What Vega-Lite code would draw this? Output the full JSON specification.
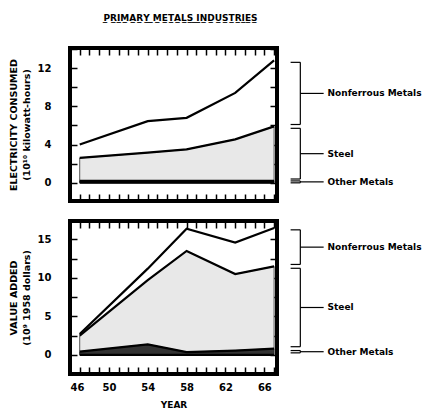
{
  "$schema": "https://vega.github.io/schema/vega-lite/v6.json",
  "padding": {"left": 6, "top": 12, "right": 0, "bottom": 0},
  "background": "white",
  "config": {
    "font": "DejaVu Sans",
    "view": {"stroke": "black", "strokeWidth": 4},
    "axis": {
      "domain": false,
      "grid": false,
      "ticks": true,
      "tickColor": "black",
      "tickWidth": 1.5,
      "tickSize": 7,
      "offset": -7,
      "labelFont": "DejaVu Sans",
      "labelFontWeight": "bold",
      "labelFontSize": 10,
      "labelColor": "black",
      "titleFont": "DejaVu Sans",
      "titleFontWeight": "bold",
      "titleFontSize": 9.5,
      "titleColor": "black"
    },
    "title": {"font": "DejaVu Sans", "fontWeight": "bold", "fontSize": 9, "color": "black"}
  },
  "datasets": {
    "electricity": [
      {"year": 47, "metal": "Other Metals", "value": 0.2},
      {"year": 47, "metal": "Steel", "value": 2.4},
      {"year": 47, "metal": "Nonferrous Metals", "value": 1.4},
      {"year": 54, "metal": "Other Metals", "value": 0.2},
      {"year": 54, "metal": "Steel", "value": 2.95},
      {"year": 54, "metal": "Nonferrous Metals", "value": 3.3},
      {"year": 58, "metal": "Other Metals", "value": 0.2},
      {"year": 58, "metal": "Steel", "value": 3.3},
      {"year": 58, "metal": "Nonferrous Metals", "value": 3.3},
      {"year": 63, "metal": "Other Metals", "value": 0.2},
      {"year": 63, "metal": "Steel", "value": 4.35},
      {"year": 63, "metal": "Nonferrous Metals", "value": 4.85},
      {"year": 67, "metal": "Other Metals", "value": 0.2},
      {"year": 67, "metal": "Steel", "value": 5.7},
      {"year": 67, "metal": "Nonferrous Metals", "value": 6.9}
    ],
    "valueAdded": [
      {"year": 47, "metal": "Other Metals", "value": 0.4},
      {"year": 47, "metal": "Steel", "value": 2.1},
      {"year": 47, "metal": "Nonferrous Metals", "value": 0.2},
      {"year": 54, "metal": "Other Metals", "value": 1.35},
      {"year": 54, "metal": "Steel", "value": 8.35},
      {"year": 54, "metal": "Nonferrous Metals", "value": 1.5},
      {"year": 58, "metal": "Other Metals", "value": 0.35},
      {"year": 58, "metal": "Steel", "value": 13.15},
      {"year": 58, "metal": "Nonferrous Metals", "value": 2.9},
      {"year": 63, "metal": "Other Metals", "value": 0.55},
      {"year": 63, "metal": "Steel", "value": 9.95},
      {"year": 63, "metal": "Nonferrous Metals", "value": 4.1},
      {"year": 67, "metal": "Other Metals", "value": 0.8},
      {"year": 67, "metal": "Steel", "value": 10.7},
      {"year": 67, "metal": "Nonferrous Metals", "value": 5.0}
    ]
  },
  "spacing": 14,
  "vconcat": [
    {
      "width": 207,
      "height": 153,
      "title": {
        "text": "P\u0332R\u0332I\u0332M\u0332A\u0332R\u0332Y\u0332 \u0332M\u0332E\u0332T\u0332A\u0332L\u0332S\u0332 \u0332I\u0332N\u0332D\u0332U\u0332S\u0332T\u0332R\u0332I\u0332E\u0332S\u0332",
        "anchor": "middle",
        "offset": 24,
        "dx": 7
      },
      "data": {"name": "electricity"},
      "transform": [
        {"calculate": "indexof(['Other Metals', 'Steel', 'Nonferrous Metals'], datum.metal)", "as": "rank"},
        {"window": [{"op": "sum", "field": "value", "as": "top"}], "groupby": ["year"], "sort": [{"field": "rank", "order": "ascending"}], "frame": [null, 0]},
        {"calculate": "datum.top - datum.value", "as": "bottom"}
      ],
      "layer": [
        {
          "mark": {"type": "area", "strokeWidth": 1},
          "encoding": {
            "x": {"field": "year", "type": "quantitative", "scale": {"domain": [46, 67.3], "nice": false, "zero": false},
                  "axis": {"orient": "bottom", "grid": false, "values": [46,47,48,49,50,51,52,53,54,55,56,57,58,59,60,61,62,63,64,65,66,67], "labels": false, "title": null}},
            "y": {"field": "top", "type": "quantitative", "scale": {"domain": [-1.9, 14.1], "nice": false, "zero": false},
                  "axis": {"orient": "left", "grid": false, "values": [0,2,4,6,8,10,12,14], "labelExpr": "datum.value % 4 === 0 ? datum.label : ''", "labelPadding": 19, "titlePadding": 6, "titleLineHeight": 13,
                           "title": ["ELECTRICITY  CONSUMED", "(10\u00b9\u2070 kilowatt-hours)"]}},
            "y2": {"field": "bottom"},
            "fill": {"field": "metal", "type": "nominal", "legend": null,
                     "scale": {"domain": ["Other Metals", "Steel", "Nonferrous Metals"], "range": ["#333333", "#e8e8e8", "rgba(255,255,255,0)"]}},
            "stroke": {"field": "metal", "type": "nominal", "legend": null,
                       "scale": {"domain": ["Other Metals", "Steel", "Nonferrous Metals"], "range": ["#262626", "#555555", "rgba(255,255,255,0)"]}}
          }
        },
        {
          "mark": {"type": "line", "color": "black", "strokeWidth": 2.2},
          "encoding": {
            "x": {"field": "year", "type": "quantitative", "scale": {"domain": [46, 67.3], "nice": false, "zero": false}, "axis": null},
            "y": {"field": "top", "type": "quantitative", "scale": {"domain": [-1.9, 14.1], "nice": false, "zero": false}, "axis": null},
            "detail": {"field": "metal"}
          }
        },
        {
          "mark": {"type": "line", "color": "black", "strokeWidth": 2},
          "encoding": {
            "x": {"field": "year", "type": "quantitative", "scale": {"domain": [46, 67.3], "nice": false, "zero": false},
                  "axis": {"orient": "top", "grid": false, "values": [46,47,48,49,50,51,52,53,54,55,56,57,58,59,60,61,62,63,64,65,66,67], "labels": false, "title": null}},
            "y": {"datum": 0, "type": "quantitative", "scale": {"domain": [-1.9, 14.1], "nice": false, "zero": false},
                  "axis": {"orient": "right", "grid": false, "values": [0,2,4,6,8,10,12,14], "labels": false, "title": null}}
          }
        },
        {
          "transform": [
            {"filter": "datum.year == 67"},
            {"calculate": "datum.bottom + 0.2", "as": "lo"},
            {"calculate": "datum.top - 0.2", "as": "hi"},
            {"calculate": "(datum.bottom + datum.top) / 2", "as": "mid"}
          ],
          "layer": [
            {
              "mark": {"type": "rule", "color": "black", "strokeWidth": 1.2},
              "encoding": {
                "x": {"datum": 69.7, "type": "quantitative", "scale": {"domain": [46, 67.3], "nice": false, "zero": false}, "axis": null},
                "y": {"field": "lo", "type": "quantitative", "scale": {"domain": [-1.9, 14.1], "nice": false, "zero": false}, "axis": null},
                "y2": {"field": "hi"}
              }
            },
            {
              "mark": {"type": "rule", "color": "black", "strokeWidth": 1.2},
              "encoding": {
                "x": {"datum": 68.7, "type": "quantitative", "scale": {"domain": [46, 67.3], "nice": false, "zero": false}, "axis": null},
                "x2": {"datum": 69.7},
                "y": {"field": "hi", "type": "quantitative", "scale": {"domain": [-1.9, 14.1], "nice": false, "zero": false}, "axis": null}
              }
            },
            {
              "mark": {"type": "rule", "color": "black", "strokeWidth": 1.2},
              "encoding": {
                "x": {"datum": 68.7, "type": "quantitative", "scale": {"domain": [46, 67.3], "nice": false, "zero": false}, "axis": null},
                "x2": {"datum": 69.7},
                "y": {"field": "lo", "type": "quantitative", "scale": {"domain": [-1.9, 14.1], "nice": false, "zero": false}, "axis": null}
              }
            },
            {
              "mark": {"type": "rule", "color": "black", "strokeWidth": 1.2},
              "encoding": {
                "x": {"datum": 69.7, "type": "quantitative", "scale": {"domain": [46, 67.3], "nice": false, "zero": false}, "axis": null},
                "x2": {"datum": 72.1},
                "y": {"field": "mid", "type": "quantitative", "scale": {"domain": [-1.9, 14.1], "nice": false, "zero": false}, "axis": null}
              }
            },
            {
              "mark": {"type": "text", "align": "left", "baseline": "middle", "font": "DejaVu Sans", "fontWeight": "bold", "fontSize": 9, "color": "black"},
              "encoding": {
                "x": {"datum": 72.5, "type": "quantitative", "scale": {"domain": [46, 67.3], "nice": false, "zero": false}, "axis": null},
                "y": {"field": "mid", "type": "quantitative", "scale": {"domain": [-1.9, 14.1], "nice": false, "zero": false}, "axis": null},
                "text": {"field": "metal"}
              }
            }
          ]
        }
      ],
      "resolve": {"axis": {"x": "independent", "y": "independent"}}
    },
    {
      "width": 207,
      "height": 153,
      "data": {"name": "valueAdded"},
      "transform": [
        {"calculate": "indexof(['Other Metals', 'Steel', 'Nonferrous Metals'], datum.metal)", "as": "rank"},
        {"window": [{"op": "sum", "field": "value", "as": "top"}], "groupby": ["year"], "sort": [{"field": "rank", "order": "ascending"}], "frame": [null, 0]},
        {"calculate": "datum.top - datum.value", "as": "bottom"}
      ],
      "layer": [
        {
          "mark": {"type": "area", "strokeWidth": 1},
          "encoding": {
            "x": {"field": "year", "type": "quantitative", "scale": {"domain": [46, 67.3], "nice": false, "zero": false},
                  "axis": {"orient": "bottom", "grid": false, "values": [46,47,48,49,50,51,52,53,54,55,56,57,58,59,60,61,62,63,64,65,66,67], "labelExpr": "datum.value % 4 === 2 ? datum.label : ''", "labelPadding": 8, "titlePadding": 8, "title": "YEAR", "titleFontSize": 9}},
            "y": {"field": "top", "type": "quantitative", "scale": {"domain": [-2.5, 17.4], "nice": false, "zero": false},
                  "axis": {"orient": "left", "grid": false, "values": [0,2.5,5,7.5,10,12.5,15,17.5], "labelExpr": "datum.value % 5 === 0 ? datum.label : ''", "labelPadding": 19, "titlePadding": 6, "titleLineHeight": 13,
                           "title": ["VALUE  ADDED", "(10\u2079 1958 dollars)"]}},
            "y2": {"field": "bottom"},
            "fill": {"field": "metal", "type": "nominal", "legend": null,
                     "scale": {"domain": ["Other Metals", "Steel", "Nonferrous Metals"], "range": ["#4a4a4a", "#c4c4c4", "rgba(255,255,255,0)"]}},
            "stroke": {"field": "metal", "type": "nominal", "legend": null,
                       "scale": {"domain": ["Other Metals", "Steel", "Nonferrous Metals"], "range": ["#262626", "#555555", "rgba(255,255,255,0)"]}}
          }
        },
        {
          "mark": {"type": "line", "color": "black", "strokeWidth": 2.2},
          "encoding": {
            "x": {"field": "year", "type": "quantitative", "scale": {"domain": [46, 67.3], "nice": false, "zero": false}, "axis": null},
            "y": {"field": "top", "type": "quantitative", "scale": {"domain": [-2.5, 17.4], "nice": false, "zero": false}, "axis": null},
            "detail": {"field": "metal"}
          }
        },
        {
          "mark": {"type": "line", "color": "black", "strokeWidth": 2.2},
          "encoding": {
            "x": {"field": "year", "type": "quantitative", "scale": {"domain": [46, 67.3], "nice": false, "zero": false},
                  "axis": {"orient": "top", "grid": false, "values": [46,47,48,49,50,51,52,53,54,55,56,57,58,59,60,61,62,63,64,65,66,67], "labels": false, "title": null}},
            "y": {"datum": 0, "type": "quantitative", "scale": {"domain": [-2.5, 17.4], "nice": false, "zero": false},
                  "axis": {"orient": "right", "grid": false, "values": [0,2.5,5,7.5,10,12.5,15,17.5], "labels": false, "title": null}}
          }
        },
        {
          "transform": [
            {"filter": "datum.year == 67"},
            {"calculate": "datum.bottom + 0.25", "as": "lo"},
            {"calculate": "datum.top - 0.25", "as": "hi"},
            {"calculate": "(datum.bottom + datum.top) / 2", "as": "mid"}
          ],
          "layer": [
            {
              "mark": {"type": "rule", "color": "black", "strokeWidth": 1.2},
              "encoding": {
                "x": {"datum": 69.7, "type": "quantitative", "scale": {"domain": [46, 67.3], "nice": false, "zero": false}, "axis": null},
                "y": {"field": "lo", "type": "quantitative", "scale": {"domain": [-2.5, 17.4], "nice": false, "zero": false}, "axis": null},
                "y2": {"field": "hi"}
              }
            },
            {
              "mark": {"type": "rule", "color": "black", "strokeWidth": 1.2},
              "encoding": {
                "x": {"datum": 68.7, "type": "quantitative", "scale": {"domain": [46, 67.3], "nice": false, "zero": false}, "axis": null},
                "x2": {"datum": 69.7},
                "y": {"field": "hi", "type": "quantitative", "scale": {"domain": [-2.5, 17.4], "nice": false, "zero": false}, "axis": null}
              }
            },
            {
              "mark": {"type": "rule", "color": "black", "strokeWidth": 1.2},
              "encoding": {
                "x": {"datum": 68.7, "type": "quantitative", "scale": {"domain": [46, 67.3], "nice": false, "zero": false}, "axis": null},
                "x2": {"datum": 69.7},
                "y": {"field": "lo", "type": "quantitative", "scale": {"domain": [-2.5, 17.4], "nice": false, "zero": false}, "axis": null}
              }
            },
            {
              "mark": {"type": "rule", "color": "black", "strokeWidth": 1.2},
              "encoding": {
                "x": {"datum": 69.7, "type": "quantitative", "scale": {"domain": [46, 67.3], "nice": false, "zero": false}, "axis": null},
                "x2": {"datum": 72.1},
                "y": {"field": "mid", "type": "quantitative", "scale": {"domain": [-2.5, 17.4], "nice": false, "zero": false}, "axis": null}
              }
            },
            {
              "mark": {"type": "text", "align": "left", "baseline": "middle", "font": "DejaVu Sans", "fontWeight": "bold", "fontSize": 9, "color": "black"},
              "encoding": {
                "x": {"datum": 72.5, "type": "quantitative", "scale": {"domain": [46, 67.3], "nice": false, "zero": false}, "axis": null},
                "y": {"field": "mid", "type": "quantitative", "scale": {"domain": [-2.5, 17.4], "nice": false, "zero": false}, "axis": null},
                "text": {"field": "metal"}
              }
            }
          ]
        }
      ],
      "resolve": {"axis": {"x": "independent", "y": "independent"}}
    }
  ]
}
